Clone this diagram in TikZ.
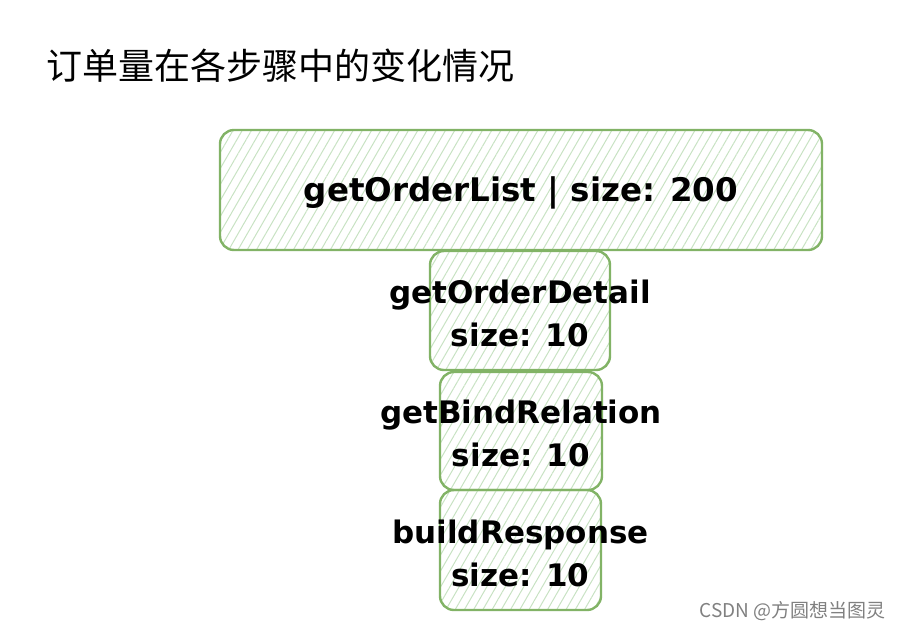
\documentclass[tikz,border=0pt]{standalone}
\usepackage{fontspec}
\setmainfont{DejaVu Sans}
\newfontfamily\cjk{Noto Sans CJK SC}
\usetikzlibrary{patterns.meta}
\definecolor{boxgreen}{HTML}{82B366}
\definecolor{hatchgreen}{HTML}{C8E2C3}

\begin{document}
\begin{tikzpicture}[x=1pt, y=-1pt]
	\tikzstyle{stepbox} = [draw=boxgreen, line width=2.4pt, rounded corners=14pt, inner sep=0pt,
		pattern={Lines[angle=60, distance=8pt, line width=1pt]}, pattern color=hatchgreen]
	\tikzstyle{steptext} = [font=\fontsize{31}{43}\selectfont\bfseries, align=center, inner sep=0pt]
	\useasboundingbox (0,0) rectangle (900,630);

	% title
	\node[anchor=west, inner sep=0pt, font=\cjk\fontsize{36}{40}\selectfont] (title) at (46,66) {订单量在各步骤中的变化情况};

	% boxes
	\node[stepbox, minimum width=602pt, minimum height=120pt] (list) at (521,190) {};
	\node[stepbox, minimum width=180pt, minimum height=119pt] (detail) at (520,310.5) {};
	\node[stepbox, minimum width=162pt, minimum height=118pt] (bind) at (521,431) {};
	\node[stepbox, minimum width=161pt, minimum height=120pt] (resp) at (520.5,550) {};

	% labels
	\node[steptext, font=\fontsize{32.5}{43}\selectfont\bfseries] (listtext) at ([yshift=-3pt]list.center) {getOrderList | size: 200};
	\node[steptext] (detailtext) at ([yshift=-3pt]detail.center) {getOrderDetail\\size: 10};
	\node[steptext] (bindtext) at ([yshift=-2pt]bind.center) {getBindRelation\\size: 10};
	\node[steptext] (resptext) at ([yshift=-3pt]resp.center) {buildResponse\\size: 10};

	\node[anchor=east, inner sep=0pt, text=gray, font=\cjk\fontsize{19}{22}\selectfont] (mark) at (886,611) {CSDN @方圆想当图灵};
\end{tikzpicture}
\end{document}
